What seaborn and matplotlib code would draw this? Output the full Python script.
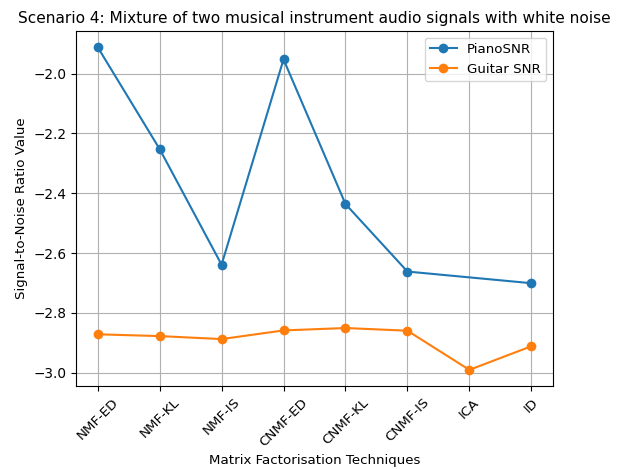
import numpy as np
import pandas as pd
import matplotlib
matplotlib.use("Agg")
import matplotlib.pyplot as plt
import seaborn as sns

techniques = ["NMF-ED", "NMF-KL", "NMF-IS", "CNMF-ED", "CNMF-KL", "CNMF-IS", "ICA", "ID"]
piano_snr = [-1.911, -2.252, -2.639, -1.952, -2.436, -2.662, np.nan, -2.701]
guitar_snr = [-2.872, -2.878, -2.888, -2.859, -2.851, -2.860, -2.991, -2.912]

df = pd.DataFrame({
    "Technique": techniques * 2,
    "SNR": piano_snr + guitar_snr,
    "Series": ["PianoSNR"] * len(techniques) + ["Guitar SNR"] * len(techniques),
})
df["Technique"] = pd.Categorical(df["Technique"], categories=techniques, ordered=True)
df["x"] = df["Technique"].cat.codes

fig = plt.figure(figsize=(6.21, 4.69), dpi=100)
ax = fig.add_axes([76 / 621, 1 - 386 / 469, (553 - 76) / 621, (386 - 31) / 469])

sns.lineplot(data=df.dropna(), x="x", y="SNR", hue="Series", marker="o",
             markersize=7, markeredgewidth=0, palette=["#1f77b4", "#ff7f0e"],
             ax=ax, sort=True)

ax.set_xticks(range(len(techniques)))
ax.set_xticklabels(techniques, rotation=45, fontsize=9.6)
ax.tick_params(axis="y", labelsize=9.8)
ax.grid(True)
ax.set_xlabel("Matrix Factorisation Techniques", fontsize=9.6, labelpad=3.5)
ax.set_ylabel("Signal-to-Noise Ratio Value", fontsize=9.6)
ax.set_title("Scenario 4: Mixture of two musical instrument audio signals with white noise",
             fontsize=11.1, x=0.5)
ax.legend(title=None, loc="upper right", fontsize=9.6)

fig.savefig("out.png", dpi=100)
